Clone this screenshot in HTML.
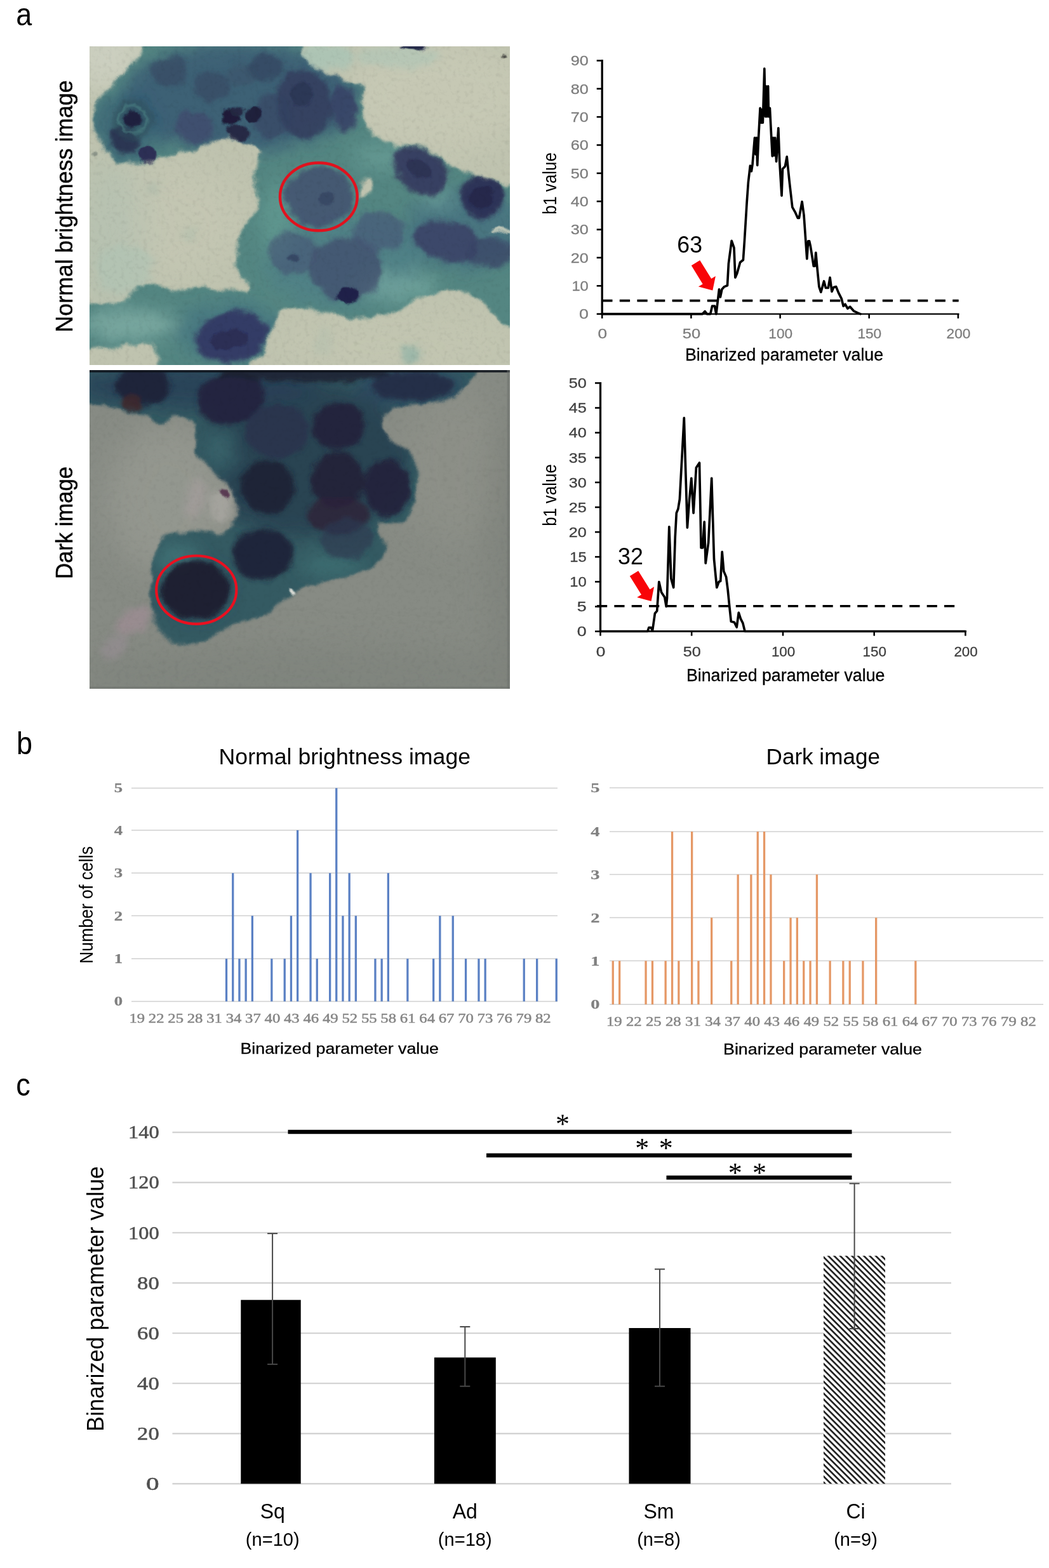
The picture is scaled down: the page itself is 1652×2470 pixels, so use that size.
<!DOCTYPE html>
<html><head><meta charset="utf-8"><title>Figure</title>
<style>
html,body{margin:0;padding:0;background:#fff;}
body{width:1652px;height:2470px;overflow:hidden;font-family:"Liberation Sans",sans-serif;}
svg{display:block;}
</style></head><body>
<svg width="1652" height="2470" viewBox="0 0 1652 2470">
<rect width="1652" height="2470" fill="#fff"/>
<defs>
<clipPath id="cp1"><rect x="141" y="73" width="662" height="502"/></clipPath>
<clipPath id="cp2"><rect x="141" y="583" width="662" height="502"/></clipPath>
<filter id="bl3" filterUnits="userSpaceOnUse" x="-100" y="-100" width="1768" height="1389"><feGaussianBlur stdDeviation="3"/></filter>
<filter id="bl5" filterUnits="userSpaceOnUse" x="-100" y="-100" width="1768" height="1389"><feGaussianBlur stdDeviation="5"/></filter>
<filter id="bl8" filterUnits="userSpaceOnUse" x="-100" y="-100" width="1768" height="1389"><feGaussianBlur stdDeviation="8"/></filter>
<filter id="bl14" filterUnits="userSpaceOnUse" x="-100" y="-100" width="1768" height="1389"><feGaussianBlur stdDeviation="14"/></filter>
<filter id="bl30" filterUnits="userSpaceOnUse" x="-100" y="-100" width="1768" height="1389"><feGaussianBlur stdDeviation="30"/></filter>
<filter id="bl60" filterUnits="userSpaceOnUse" x="-100" y="-100" width="1768" height="1389"><feGaussianBlur stdDeviation="60"/></filter>
<filter id="org1" filterUnits="userSpaceOnUse" x="-90" y="-90" width="1748" height="1369" color-interpolation-filters="sRGB">
<feTurbulence type="fractalNoise" baseFrequency="0.016" numOctaves="4" seed="7" result="w"/>
<feDisplacementMap in="SourceGraphic" in2="w" scale="38" xChannelSelector="R" yChannelSelector="G" result="d"/>
<feTurbulence type="fractalNoise" baseFrequency="0.06" numOctaves="4" seed="23" result="g0"/>
<feColorMatrix in="g0" type="matrix" values="0.5 0.5 0 0 0  0.5 0.5 0 0 0  0.5 0.5 0 0 0  0 0 0 0 1" result="g1"/>
<feComponentTransfer in="g1" result="g2"><feFuncR type="linear" slope="0.18" intercept="0.91"/><feFuncG type="linear" slope="0.18" intercept="0.91"/><feFuncB type="linear" slope="0.18" intercept="0.91"/></feComponentTransfer>
<feBlend in="d" in2="g2" mode="multiply" result="m"/>
<feComposite in="m" in2="d" operator="in"/>
</filter>
<filter id="org2" filterUnits="userSpaceOnUse" x="-90" y="-90" width="1748" height="1369" color-interpolation-filters="sRGB">
<feTurbulence type="fractalNoise" baseFrequency="0.016" numOctaves="4" seed="19" result="w"/>
<feDisplacementMap in="SourceGraphic" in2="w" scale="30" xChannelSelector="R" yChannelSelector="G" result="d"/>
<feTurbulence type="fractalNoise" baseFrequency="0.06" numOctaves="4" seed="5" result="g0"/>
<feColorMatrix in="g0" type="matrix" values="0.5 0.5 0 0 0  0.5 0.5 0 0 0  0.5 0.5 0 0 0  0 0 0 0 1" result="g1"/>
<feComponentTransfer in="g1" result="g2"><feFuncR type="linear" slope="0.13" intercept="0.935"/><feFuncG type="linear" slope="0.13" intercept="0.935"/><feFuncB type="linear" slope="0.13" intercept="0.935"/></feComponentTransfer>
<feBlend in="d" in2="g2" mode="multiply" result="m"/>
<feComposite in="m" in2="d" operator="in"/>
</filter>
</defs>
<g clip-path="url(#cp1)"><rect x="141" y="73" width="662" height="502" fill="#bfc3af"/>
<g transform="translate(141 73) scale(0.42219)" filter="url(#org1)">
<rect x="-100" y="-100" width="1768" height="1389" fill="#bfc3af"/>
<g filter="url(#bl60)">
<ellipse cx="1300" cy="180" rx="350" ry="220" fill="#c6c9b5" opacity="0.9"/>
<ellipse cx="300" cy="650" rx="280" ry="220" fill="#c4c7b3" opacity="0.8"/>
<ellipse cx="1150" cy="1120" rx="450" ry="150" fill="#c3c6b1" opacity="0.8"/>
<ellipse cx="60" cy="40" rx="160" ry="120" fill="#cdd0c2" opacity="0.9"/>
<ellipse cx="80" cy="700" rx="120" ry="300" fill="#b2c0b0" opacity="0.7"/>
</g>
<g filter="url(#bl14)">
<ellipse cx="880" cy="40" rx="110" ry="50" fill="#a9c4b5" opacity="0.8"/>
<ellipse cx="1150" cy="40" rx="150" ry="40" fill="#b0c6b6" opacity="0.7"/>
<ellipse cx="1199" cy="1150" rx="35" ry="40" fill="#94b4a8" opacity="0.8"/>
<ellipse cx="130" cy="830" rx="110" ry="90" fill="#b0c3b4" opacity="0.7"/>
<ellipse cx="240" cy="530" rx="25" ry="20" fill="#a8b8a8" opacity="0.6"/>
<ellipse cx="375" cy="700" rx="30" ry="25" fill="#b2bfae" opacity="0.6"/>
<ellipse cx="870" cy="1100" rx="30" ry="60" fill="#b4c0ae" opacity="0.5"/>
</g>
<mask id="m1" maskUnits="userSpaceOnUse" x="-100" y="-100" width="1768" height="1389"><g filter="url(#bl5)">
<path d="M215,-110C312,-130 684,-133 780,-110C876,-87 781,1 790,30C799,59 818,53 834,65C850,77 863,90 884,100C905,110 938,117 959,125C980,133 999,138 1009,150C1019,162 1016,183 1019,200C1022,217 1020,232 1024,250C1028,268 1034,293 1044,310C1054,327 1069,340 1084,350C1099,360 1148,358 1134,370C1120,382 1039,412 1000,420C961,428 950,420 900,420C850,420 741,422 700,420C659,418 668,412 655,405C642,398 638,388 625,380C612,372 596,361 575,355C554,349 521,344 500,345C479,346 467,353 450,360C433,367 421,379 400,385C379,391 348,389 325,395C302,401 281,412 260,420C239,428 218,438 200,440C182,442 167,437 150,435C133,433 114,438 100,430C86,422 77,405 65,390C53,375 38,358 30,340C22,322 19,299 18,280C17,261 18,244 25,225C32,206 48,182 60,165C72,148 88,138 100,125C112,112 122,102 135,90C148,78 164,63 175,50C186,37 193,37 200,10C207,-17 118,-90 215,-110Z" fill="#fff"/>
<path d="M655,390C684,378 742,385 800,380C858,375 953,365 1000,360C1047,355 1062,348 1084,350C1106,352 1109,367 1134,370C1159,373 1205,363 1234,370C1263,377 1288,397 1309,410C1330,423 1338,438 1359,450C1380,462 1409,472 1434,480C1459,488 1489,488 1509,495C1529,502 1524,512 1554,520C1584,528 1667,442 1690,540C1713,638 1710,1026 1690,1110C1670,1194 1598,1063 1568,1045C1538,1027 1527,1015 1509,1000C1491,985 1476,968 1459,955C1442,942 1426,927 1409,920C1392,913 1380,915 1359,915C1338,915 1305,916 1284,920C1263,924 1255,930 1234,940C1213,950 1184,969 1159,980C1134,991 1113,1000 1084,1005C1055,1010 1017,1012 984,1010C951,1008 917,1001 884,995C851,989 811,978 784,975C757,972 734,970 720,975C706,980 708,989 700,1005C692,1021 683,1047 675,1070C667,1093 662,1127 650,1145C638,1163 618,1154 600,1180C582,1206 593,1280 540,1300C487,1320 328,1328 280,1300C232,1272 263,1167 250,1135C237,1103 225,1112 200,1110C175,1108 150,1118 100,1120C50,1122 -67,1152 -100,1125C-133,1098 -133,982 -100,955C-67,928 52,975 100,965C148,955 157,906 190,895C223,884 273,898 300,900C327,902 329,911 350,910C371,909 400,894 425,895C450,896 475,912 500,915C525,918 558,913 575,910C592,907 602,904 600,895C598,886 570,868 560,855C550,842 542,834 540,820C538,806 546,791 550,770C554,749 557,716 565,695C573,674 590,662 600,645C610,628 622,619 625,595C628,571 620,524 620,500C620,476 619,468 625,450C631,432 626,402 655,390Z" fill="#fff"/>
<ellipse cx="1026" cy="530" rx="24" ry="46" fill="#000" transform="rotate(18 1026 530)"/>
</g></mask>
<g mask="url(#m1)">
<rect x="-100" y="-100" width="1768" height="1389" fill="#548682"/>
<g filter="url(#bl30)">
<ellipse cx="560" cy="190" rx="440" ry="200" fill="#3a5c74" opacity="0.9"/>
<ellipse cx="140" cy="300" rx="130" ry="140" fill="#365f74" opacity="0.7"/>
<ellipse cx="950" cy="800" rx="300" ry="170" fill="#4a7a8c" opacity="0.4"/>
<ellipse cx="1400" cy="680" rx="220" ry="150" fill="#40687f" opacity="0.55"/>
<ellipse cx="520" cy="1060" rx="200" ry="110" fill="#3f6e80" opacity="0.55"/>
<ellipse cx="150" cy="1040" rx="170" ry="60" fill="#86b3aa" opacity="0.7"/>
<ellipse cx="1150" cy="900" rx="150" ry="50" fill="#7fb3a8" opacity="0.6"/>
<ellipse cx="1100" cy="410" rx="120" ry="50" fill="#74aaa0" opacity="0.5"/>
<ellipse cx="700" cy="650" rx="60" ry="150" fill="#6aa59a" opacity="0.5"/>
<ellipse cx="1300" cy="570" rx="60" ry="40" fill="#79b0a5" opacity="0.5"/>
</g>
<g filter="url(#bl8)">
<ellipse cx="295" cy="95" rx="66" ry="56" fill="#384d65" opacity="0.8"/>
<ellipse cx="455" cy="150" rx="68" ry="60" fill="#384d67" opacity="0.8"/>
<ellipse cx="570" cy="110" rx="55" ry="45" fill="#3a5169" opacity="0.6"/>
<ellipse cx="655" cy="80" rx="70" ry="50" fill="#344963" opacity="0.8"/>
<ellipse cx="390" cy="305" rx="72" ry="62" fill="#404e6e" opacity="0.85"/>
<ellipse cx="680" cy="260" rx="70" ry="85" fill="#384665" opacity="0.7"/>
<ellipse cx="800" cy="215" rx="102" ry="132" fill="#333f5f" opacity="0.92" transform="rotate(-8 800 215)"/>
<ellipse cx="949" cy="235" rx="48" ry="88" fill="#394366" opacity="0.9" transform="rotate(-8 949 235)"/>
<ellipse cx="130" cy="350" rx="60" ry="50" fill="#293250" opacity="0.9" transform="rotate(25 130 350)"/>
<ellipse cx="160" cy="272" rx="78" ry="78" fill="#2f4f5c" opacity="0.55"/>
<ellipse cx="855" cy="562" rx="128" ry="114" fill="#425270" opacity="0.85"/>
<ellipse cx="1236" cy="462" rx="112" ry="80" fill="#363b5f" opacity="0.95" transform="rotate(32 1236 462)"/>
<ellipse cx="1464" cy="560" rx="78" ry="80" fill="#2d2e55" opacity="0.95"/>
<ellipse cx="1330" cy="725" rx="120" ry="78" fill="#3a4366" opacity="0.9" transform="rotate(10 1330 725)"/>
<ellipse cx="1490" cy="770" rx="90" ry="55" fill="#3a4366" opacity="0.75"/>
<ellipse cx="760" cy="770" rx="95" ry="80" fill="#455473" opacity="0.65"/>
<ellipse cx="960" cy="830" rx="135" ry="118" fill="#414d6e" opacity="0.75"/>
<ellipse cx="1080" cy="690" rx="95" ry="75" fill="#455374" opacity="0.6"/>
<ellipse cx="530" cy="1085" rx="138" ry="94" fill="#343a64" opacity="0.95" transform="rotate(-12 530 1085)"/>
</g>
<g filter="url(#bl3)">
<ellipse cx="160" cy="272" rx="52" ry="50" fill="none" stroke="#5a9a94" stroke-width="10" opacity="0.4"/>
<ellipse cx="160" cy="272" rx="32" ry="31" fill="#1c1d3c" opacity="0.95"/>
<ellipse cx="215" cy="410" rx="35" ry="31" fill="#2b2b53" opacity="0.95"/>
<ellipse cx="525" cy="265" rx="32" ry="30" fill="#1a1935" opacity="0.95"/>
<ellipse cx="552" cy="245" rx="20" ry="18" fill="#212640" opacity="0.9"/>
<ellipse cx="610" cy="256" rx="32" ry="28" fill="#1c1a38" opacity="0.95"/>
<ellipse cx="555" cy="322" rx="45" ry="28" fill="#242241" opacity="0.9"/>
<ellipse cx="964" cy="930" rx="40" ry="29" fill="#1e2046" opacity="0.95" transform="rotate(-10 964 930)"/>
<ellipse cx="1225" cy="455" rx="48" ry="32" fill="#2a2c50" opacity="0.7" transform="rotate(32 1225 455)"/>
<ellipse cx="1460" cy="565" rx="42" ry="42" fill="#242546" opacity="0.7"/>
<ellipse cx="520" cy="1095" rx="65" ry="35" fill="#29294e" opacity="0.7" transform="rotate(-12 520 1095)"/>
<ellipse cx="885" cy="565" rx="34" ry="28" fill="#354261" opacity="0.7"/>
<ellipse cx="790" cy="180" rx="40" ry="50" fill="#283150" opacity="0.6"/>
<ellipse cx="760" cy="785" rx="14" ry="14" fill="#2f3c5b" opacity="0.7"/>
</g>
</g>
<g filter="url(#bl3)">
<ellipse cx="1210" cy="2" rx="42" ry="14" fill="#1a2244" opacity="0.95"/>
<ellipse cx="1538" cy="38" rx="9" ry="8" fill="#3a3a38" opacity="0.9"/>
<ellipse cx="20" cy="400" rx="12" ry="10" fill="#808a80" opacity="0.8"/>
<ellipse cx="1540" cy="690" rx="40" ry="8" fill="#c8cdbd" opacity="0.9"/>
</g>
</g>
<ellipse cx="501.8" cy="309.9" rx="60.8" ry="53.4" fill="none" stroke="#e0121e" stroke-width="4.4"/>
</g>
<g clip-path="url(#cp2)"><rect x="141" y="583" width="662" height="502" fill="#878b84"/>
<g transform="translate(141 583) scale(0.42219)" filter="url(#org2)">
<rect x="-100" y="-100" width="1768" height="1389" fill="#878b84"/>
<g filter="url(#bl60)">
<ellipse cx="300" cy="480" rx="240" ry="280" fill="#959890" opacity="0.9"/>
<ellipse cx="1350" cy="350" rx="200" ry="300" fill="#8e9189" opacity="0.7"/>
<ellipse cx="800" cy="1150" rx="900" ry="120" fill="#7f847d" opacity="0.9"/>
<ellipse cx="1568" cy="700" rx="80" ry="600" fill="#7d817b" opacity="0.8"/>
</g>
<mask id="m2" maskUnits="userSpaceOnUse" x="-100" y="-100" width="1768" height="1389"><g filter="url(#bl5)">
<path d="M-100,-100C162,-133 1212,-117 1470,-100C1728,-83 1459,-25 1449,0C1439,25 1424,33 1409,50C1394,67 1380,88 1359,100C1338,112 1309,120 1284,125C1259,130 1232,128 1209,130C1186,132 1161,134 1144,140C1127,146 1117,153 1109,165C1101,177 1093,196 1094,210C1095,224 1106,239 1114,250C1122,261 1132,268 1144,275C1156,282 1172,286 1184,295C1196,304 1206,316 1214,330C1222,344 1227,363 1229,380C1231,397 1226,414 1224,430C1222,446 1218,459 1214,475C1210,491 1206,510 1199,525C1192,540 1185,557 1174,565C1163,573 1149,575 1134,575C1119,575 1093,561 1084,565C1075,569 1077,587 1080,600C1083,613 1103,628 1104,645C1105,662 1096,688 1084,705C1072,722 1055,734 1034,745C1013,756 984,763 959,770C934,777 909,779 884,785C859,791 833,794 809,805C785,816 758,838 740,850C722,862 715,864 700,875C685,886 675,903 650,915C625,927 577,935 550,945C523,955 508,964 490,975C472,986 459,1002 440,1010C421,1018 397,1025 375,1025C353,1025 329,1019 310,1010C291,1001 272,989 260,970C248,951 241,924 235,895C229,866 224,828 225,795C226,762 231,723 240,695C249,667 263,640 280,625C297,610 317,609 340,605C363,601 397,598 420,600C443,602 462,616 480,615C498,614 514,607 525,595C536,583 541,561 545,545C549,529 553,516 550,500C547,484 532,462 525,450C518,438 518,435 510,425C502,415 489,404 475,390C461,376 438,355 425,340C412,325 399,315 395,300C391,285 401,267 400,250C399,233 398,212 390,200C382,188 363,180 350,175C337,170 322,166 310,170C298,174 292,196 280,200C268,204 252,201 240,195C228,189 225,171 210,165C195,159 168,163 150,160C132,157 117,150 100,145C83,140 83,138 50,130C17,122 -75,138 -100,100C-125,62 -362,-67 -100,-100Z" fill="#fff"/>
</g></mask>
<g mask="url(#m2)">
<rect x="-100" y="-100" width="1768" height="1389" fill="#345a62"/>
<g filter="url(#bl30)">
<ellipse cx="800" cy="330" rx="400" ry="290" fill="#273f50" opacity="0.8"/>
<ellipse cx="400" cy="820" rx="120" ry="110" fill="#28455a" opacity="0.6"/>
<ellipse cx="400" cy="60" rx="450" ry="80" fill="#253f55" opacity="0.8"/>
<ellipse cx="1200" cy="60" rx="200" ry="70" fill="#2a4560" opacity="0.7"/>
<ellipse cx="330" cy="700" rx="80" ry="60" fill="#4a8585" opacity="0.5"/>
<ellipse cx="480" cy="300" rx="60" ry="80" fill="#458080" opacity="0.5"/>
<ellipse cx="900" cy="730" rx="120" ry="40" fill="#458282" opacity="0.5"/>
</g>
<g filter="url(#bl8)">
<ellipse cx="200" cy="60" rx="105" ry="70" fill="#1e2338" opacity="0.95"/>
<ellipse cx="525" cy="105" rx="128" ry="98" fill="#21253e" opacity="0.95" transform="rotate(-10 525 105)"/>
<ellipse cx="700" cy="228" rx="118" ry="100" fill="#2a334d" opacity="0.85"/>
<ellipse cx="929" cy="210" rx="100" ry="88" fill="#23233c" opacity="0.95"/>
<ellipse cx="663" cy="435" rx="100" ry="102" fill="#1d2135" opacity="0.95"/>
<ellipse cx="925" cy="410" rx="100" ry="105" fill="#212138" opacity="0.95"/>
<ellipse cx="925" cy="540" rx="115" ry="70" fill="#2e253a" opacity="0.85"/>
<ellipse cx="1109" cy="438" rx="88" ry="108" fill="#23233d" opacity="0.95"/>
<ellipse cx="645" cy="690" rx="115" ry="98" fill="#202338" opacity="0.95"/>
<ellipse cx="960" cy="630" rx="100" ry="75" fill="#2e3b51" opacity="0.7"/>
<ellipse cx="395" cy="820" rx="128" ry="108" fill="#1c1d2f" opacity="0.95"/>
<ellipse cx="1209" cy="60" rx="155" ry="55" fill="#262c46" opacity="0.9"/>
<ellipse cx="800" cy="15" rx="320" ry="30" fill="#1c2433" opacity="0.9"/>
<ellipse cx="155" cy="125" rx="38" ry="28" fill="#3e292e" opacity="0.9"/>
</g>
</g>
<g filter="url(#bl14)">
<ellipse cx="165" cy="935" rx="70" ry="40" fill="#a88e9a" opacity="0.55" transform="rotate(-25 165 935)"/>
<ellipse cx="95" cy="1030" rx="60" ry="35" fill="#9c9097" opacity="0.5" transform="rotate(-35 95 1030)"/>
<ellipse cx="395" cy="480" rx="35" ry="80" fill="#ab9fa2" opacity="0.5" transform="rotate(15 395 480)"/>
<ellipse cx="490" cy="510" rx="45" ry="60" fill="#b0aea8" opacity="0.6"/>
</g>
<g filter="url(#bl3)">
<ellipse cx="505" cy="465" rx="26" ry="12" fill="#4f2c48" opacity="0.85" transform="rotate(50 505 465)"/>
<ellipse cx="757" cy="826" rx="13" ry="9" fill="#e6e6de" opacity="0.95" transform="rotate(35 757 826)"/>
</g>
</g>
<rect x="141" y="583" width="662" height="3.6" fill="#10141c" opacity="0.9"/>
<rect x="798.5" y="583" width="4.5" height="502" fill="#6c706c" opacity="0.5"/>
<rect x="141" y="1081.5" width="662" height="3.5" fill="#6c706c" opacity="0.5"/>
<ellipse cx="309.3" cy="929.2" rx="63.1" ry="53.7" fill="none" stroke="#ea1020" stroke-width="4.2"/>
</g>
<text x="25.2" y="40.0" font-family='"Liberation Sans", sans-serif' font-size="50" text-anchor="start" fill="#000" textLength="25.0" lengthAdjust="spacingAndGlyphs">a</text>
<text x="26.1" y="1187.6" font-family='"Liberation Sans", sans-serif' font-size="50" text-anchor="start" fill="#000" textLength="25.0" lengthAdjust="spacingAndGlyphs">b</text>
<text x="25.2" y="1726.2" font-family='"Liberation Sans", sans-serif' font-size="50" text-anchor="start" fill="#000" textLength="22.5" lengthAdjust="spacingAndGlyphs">c</text>
<text x="0" y="0" font-family='"Liberation Sans", sans-serif' font-size="36.5" text-anchor="middle" fill="#000" stroke="#000" stroke-width="0.45" textLength="397.0" lengthAdjust="spacingAndGlyphs" transform="translate(113.5 325.0) rotate(-90)">Normal brightness image</text>
<text x="0" y="0" font-family='"Liberation Sans", sans-serif' font-size="36.5" text-anchor="middle" fill="#000" stroke="#000" stroke-width="0.45" textLength="177.0" lengthAdjust="spacingAndGlyphs" transform="translate(113.5 823.5) rotate(-90)">Dark image</text>
<line x1="948.2" y1="94.0" x2="948.2" y2="496.1" stroke="#000" stroke-width="3.3"/>
<line x1="946.7" y1="494.6" x2="1510.5" y2="494.6" stroke="#000" stroke-width="2.4"/>
<line x1="939.7" y1="95.5" x2="948.2" y2="95.5" stroke="#000" stroke-width="2.6"/>
<text x="898.8" y="103.2" font-family='"Liberation Sans", sans-serif' font-size="22.3" text-anchor="start" fill="#7d7d7d" textLength="28.0" lengthAdjust="spacingAndGlyphs" stroke="#7d7d7d" stroke-width="0.3">90</text>
<line x1="939.7" y1="139.8" x2="948.2" y2="139.8" stroke="#000" stroke-width="2.6"/>
<text x="898.8" y="147.5" font-family='"Liberation Sans", sans-serif' font-size="22.3" text-anchor="start" fill="#7d7d7d" textLength="28.0" lengthAdjust="spacingAndGlyphs" stroke="#7d7d7d" stroke-width="0.3">80</text>
<line x1="939.7" y1="184.2" x2="948.2" y2="184.2" stroke="#000" stroke-width="2.6"/>
<text x="898.8" y="191.9" font-family='"Liberation Sans", sans-serif' font-size="22.3" text-anchor="start" fill="#7d7d7d" textLength="28.0" lengthAdjust="spacingAndGlyphs" stroke="#7d7d7d" stroke-width="0.3">70</text>
<line x1="939.7" y1="228.5" x2="948.2" y2="228.5" stroke="#000" stroke-width="2.6"/>
<text x="898.8" y="236.2" font-family='"Liberation Sans", sans-serif' font-size="22.3" text-anchor="start" fill="#7d7d7d" textLength="28.0" lengthAdjust="spacingAndGlyphs" stroke="#7d7d7d" stroke-width="0.3">60</text>
<line x1="939.7" y1="272.9" x2="948.2" y2="272.9" stroke="#000" stroke-width="2.6"/>
<text x="898.8" y="280.6" font-family='"Liberation Sans", sans-serif' font-size="22.3" text-anchor="start" fill="#7d7d7d" textLength="28.0" lengthAdjust="spacingAndGlyphs" stroke="#7d7d7d" stroke-width="0.3">50</text>
<line x1="939.7" y1="317.2" x2="948.2" y2="317.2" stroke="#000" stroke-width="2.6"/>
<text x="898.8" y="324.9" font-family='"Liberation Sans", sans-serif' font-size="22.3" text-anchor="start" fill="#7d7d7d" textLength="28.0" lengthAdjust="spacingAndGlyphs" stroke="#7d7d7d" stroke-width="0.3">40</text>
<line x1="939.7" y1="361.6" x2="948.2" y2="361.6" stroke="#000" stroke-width="2.6"/>
<text x="898.8" y="369.3" font-family='"Liberation Sans", sans-serif' font-size="22.3" text-anchor="start" fill="#7d7d7d" textLength="28.0" lengthAdjust="spacingAndGlyphs" stroke="#7d7d7d" stroke-width="0.3">30</text>
<line x1="939.7" y1="405.9" x2="948.2" y2="405.9" stroke="#000" stroke-width="2.6"/>
<text x="898.8" y="413.6" font-family='"Liberation Sans", sans-serif' font-size="22.3" text-anchor="start" fill="#7d7d7d" textLength="28.0" lengthAdjust="spacingAndGlyphs" stroke="#7d7d7d" stroke-width="0.3">20</text>
<line x1="939.7" y1="450.3" x2="948.2" y2="450.3" stroke="#000" stroke-width="2.6"/>
<text x="900.4" y="458.0" font-family='"Liberation Sans", sans-serif' font-size="22.3" text-anchor="start" fill="#7d7d7d" textLength="26.4" lengthAdjust="spacingAndGlyphs" stroke="#7d7d7d" stroke-width="0.3">10</text>
<line x1="939.7" y1="494.6" x2="948.2" y2="494.6" stroke="#000" stroke-width="2.6"/>
<text x="911.9" y="502.3" font-family='"Liberation Sans", sans-serif' font-size="22.3" text-anchor="start" fill="#7d7d7d" textLength="14.9" lengthAdjust="spacingAndGlyphs" stroke="#7d7d7d" stroke-width="0.3">0</text>
<line x1="948.2" y1="494.6" x2="948.2" y2="501.6" stroke="#000" stroke-width="2.6"/>
<text x="941.5" y="533.1" font-family='"Liberation Sans", sans-serif' font-size="22.3" text-anchor="start" fill="#7d7d7d" textLength="14.6" lengthAdjust="spacingAndGlyphs" stroke="#7d7d7d" stroke-width="0.3">0</text>
<line x1="1088.4" y1="494.6" x2="1088.4" y2="501.6" stroke="#000" stroke-width="2.6"/>
<text x="1074.8" y="533.1" font-family='"Liberation Sans", sans-serif' font-size="22.3" text-anchor="start" fill="#7d7d7d" textLength="28.4" lengthAdjust="spacingAndGlyphs" stroke="#7d7d7d" stroke-width="0.3">50</text>
<line x1="1228.6" y1="494.6" x2="1228.6" y2="501.6" stroke="#000" stroke-width="2.6"/>
<text x="1210.3" y="533.1" font-family='"Liberation Sans", sans-serif' font-size="22.3" text-anchor="start" fill="#7d7d7d" textLength="37.8" lengthAdjust="spacingAndGlyphs" stroke="#7d7d7d" stroke-width="0.3">100</text>
<line x1="1368.7" y1="494.6" x2="1368.7" y2="501.6" stroke="#000" stroke-width="2.6"/>
<text x="1350.4" y="533.1" font-family='"Liberation Sans", sans-serif' font-size="22.3" text-anchor="start" fill="#7d7d7d" textLength="37.8" lengthAdjust="spacingAndGlyphs" stroke="#7d7d7d" stroke-width="0.3">150</text>
<line x1="1508.9" y1="494.6" x2="1508.9" y2="501.6" stroke="#000" stroke-width="2.6"/>
<text x="1490.6" y="533.1" font-family='"Liberation Sans", sans-serif' font-size="22.3" text-anchor="start" fill="#7d7d7d" textLength="37.8" lengthAdjust="spacingAndGlyphs" stroke="#7d7d7d" stroke-width="0.3">200</text>
<polyline fill="none" stroke="#000" stroke-width="3.7" stroke-linejoin="round" stroke-linecap="round" points="947.5,494.6 1106.3,494.6 1110.1,490.4 1113.3,494.6 1118.7,494.6 1121.6,482.2 1125.4,482.2 1127.9,494.6 1132.5,455.8 1134.4,467.8 1136.9,455.8 1140.7,451.6 1145.5,449.7 1147.4,415.2 1152.2,379.3 1156.0,390.4 1157.9,437.2 1160.8,430.5 1165.6,413.3 1170.4,409.5 1172.6,377.0 1176.1,319.6 1178.4,287.1 1181.4,261.2 1183.4,269.8 1185.1,258.4 1188.5,217.2 1190.1,243.1 1191.4,217.2 1192.7,260.3 1194.6,216.3 1197.1,170.4 1199.0,193.3 1200.4,172.3 1201.3,193.3 1203.8,108.2 1205.4,183.7 1206.3,135.9 1207.7,183.7 1209.6,135.9 1210.5,183.7 1212.4,170.4 1216.3,245.9 1217.8,217.2 1219.1,245.0 1220.7,217.2 1222.6,254.5 1225.8,201.9 1227.7,254.5 1231.0,308.1 1232.5,266.0 1236.4,262.2 1239.2,246.9 1243.1,285.1 1247.8,326.3 1252.6,334.9 1256.4,343.5 1258.4,343.5 1263.1,317.7 1266.0,338.7 1270.8,407.6 1272.7,379.8 1274.6,379.8 1276.5,388.5 1281.3,419.1 1283.2,419.1 1284.8,398.0 1286.7,419.1 1289.9,451.6 1292.8,460.2 1297.6,443.0 1300.4,453.5 1304.3,453.5 1307.1,437.2 1310.0,459.2 1312.9,452.5 1316.7,451.6 1320.5,461.1 1325.3,470.7 1328.2,482.2 1331.1,479.3 1334.9,486.0 1338.7,483.2 1344.4,489.8 1350.2,492.7 1355.0,494.6"/>
<line x1="948.2" y1="473.6" x2="1509.7" y2="473.6" stroke="#000" stroke-width="3.6" stroke-dasharray="16.3 11.3"/>
<text x="1066.3" y="398.4" font-family='"Liberation Sans", sans-serif' font-size="36.5" text-anchor="start" fill="#000" textLength="39.7" lengthAdjust="spacingAndGlyphs">63</text>
<polygon points="1088.8,418.2 1106.7,447.4 1099.9,451.5 1122.3,457.6 1126.9,434.9 1120.2,439.1 1102.2,410.0" fill="#f80408"/>
<text x="1078.9" y="567.5" font-family='"Liberation Sans", sans-serif' font-size="27" text-anchor="start" fill="#000" textLength="312.2" lengthAdjust="spacingAndGlyphs" stroke="#000" stroke-width="0.3">Binarized parameter value</text>
<text x="0" y="0" font-family='"Liberation Sans", sans-serif' font-size="30" text-anchor="middle" fill="#000" textLength="97.5" lengthAdjust="spacingAndGlyphs" transform="translate(876.3 289.0) rotate(-90)">b1 value</text>
<line x1="945.5" y1="601.9" x2="945.5" y2="996.1" stroke="#000" stroke-width="3.3"/>
<line x1="944.0" y1="994.6" x2="1521.9" y2="994.6" stroke="#000" stroke-width="3"/>
<line x1="937.0" y1="603.4" x2="945.5" y2="603.4" stroke="#000" stroke-width="2.6"/>
<text x="895.7" y="611.1" font-family='"Liberation Sans", sans-serif' font-size="22.3" text-anchor="start" fill="#3f3f3f" textLength="28.0" lengthAdjust="spacingAndGlyphs" stroke="#3f3f3f" stroke-width="0.3">50</text>
<line x1="937.0" y1="642.5" x2="945.5" y2="642.5" stroke="#000" stroke-width="2.6"/>
<text x="895.7" y="650.2" font-family='"Liberation Sans", sans-serif' font-size="22.3" text-anchor="start" fill="#3f3f3f" textLength="28.0" lengthAdjust="spacingAndGlyphs" stroke="#3f3f3f" stroke-width="0.3">45</text>
<line x1="937.0" y1="681.6" x2="945.5" y2="681.6" stroke="#000" stroke-width="2.6"/>
<text x="895.7" y="689.3" font-family='"Liberation Sans", sans-serif' font-size="22.3" text-anchor="start" fill="#3f3f3f" textLength="28.0" lengthAdjust="spacingAndGlyphs" stroke="#3f3f3f" stroke-width="0.3">40</text>
<line x1="937.0" y1="720.8" x2="945.5" y2="720.8" stroke="#000" stroke-width="2.6"/>
<text x="895.7" y="728.5" font-family='"Liberation Sans", sans-serif' font-size="22.3" text-anchor="start" fill="#3f3f3f" textLength="28.0" lengthAdjust="spacingAndGlyphs" stroke="#3f3f3f" stroke-width="0.3">35</text>
<line x1="937.0" y1="759.9" x2="945.5" y2="759.9" stroke="#000" stroke-width="2.6"/>
<text x="895.7" y="767.6" font-family='"Liberation Sans", sans-serif' font-size="22.3" text-anchor="start" fill="#3f3f3f" textLength="28.0" lengthAdjust="spacingAndGlyphs" stroke="#3f3f3f" stroke-width="0.3">30</text>
<line x1="937.0" y1="799.0" x2="945.5" y2="799.0" stroke="#000" stroke-width="2.6"/>
<text x="895.7" y="806.7" font-family='"Liberation Sans", sans-serif' font-size="22.3" text-anchor="start" fill="#3f3f3f" textLength="28.0" lengthAdjust="spacingAndGlyphs" stroke="#3f3f3f" stroke-width="0.3">25</text>
<line x1="937.0" y1="838.1" x2="945.5" y2="838.1" stroke="#000" stroke-width="2.6"/>
<text x="895.7" y="845.8" font-family='"Liberation Sans", sans-serif' font-size="22.3" text-anchor="start" fill="#3f3f3f" textLength="28.0" lengthAdjust="spacingAndGlyphs" stroke="#3f3f3f" stroke-width="0.3">20</text>
<line x1="937.0" y1="877.2" x2="945.5" y2="877.2" stroke="#000" stroke-width="2.6"/>
<text x="897.3" y="884.9" font-family='"Liberation Sans", sans-serif' font-size="22.3" text-anchor="start" fill="#3f3f3f" textLength="26.4" lengthAdjust="spacingAndGlyphs" stroke="#3f3f3f" stroke-width="0.3">15</text>
<line x1="937.0" y1="916.4" x2="945.5" y2="916.4" stroke="#000" stroke-width="2.6"/>
<text x="897.3" y="924.1" font-family='"Liberation Sans", sans-serif' font-size="22.3" text-anchor="start" fill="#3f3f3f" textLength="26.4" lengthAdjust="spacingAndGlyphs" stroke="#3f3f3f" stroke-width="0.3">10</text>
<line x1="937.0" y1="955.5" x2="945.5" y2="955.5" stroke="#000" stroke-width="2.6"/>
<text x="908.8" y="963.2" font-family='"Liberation Sans", sans-serif' font-size="22.3" text-anchor="start" fill="#3f3f3f" textLength="14.9" lengthAdjust="spacingAndGlyphs" stroke="#3f3f3f" stroke-width="0.3">5</text>
<line x1="937.0" y1="994.6" x2="945.5" y2="994.6" stroke="#000" stroke-width="2.6"/>
<text x="908.8" y="1002.3" font-family='"Liberation Sans", sans-serif' font-size="22.3" text-anchor="start" fill="#3f3f3f" textLength="14.9" lengthAdjust="spacingAndGlyphs" stroke="#3f3f3f" stroke-width="0.3">0</text>
<line x1="945.5" y1="994.6" x2="945.5" y2="1001.6" stroke="#000" stroke-width="2.6"/>
<text x="938.8" y="1034.3" font-family='"Liberation Sans", sans-serif' font-size="22.3" text-anchor="start" fill="#3f3f3f" textLength="14.6" lengthAdjust="spacingAndGlyphs" stroke="#3f3f3f" stroke-width="0.3">0</text>
<line x1="1089.2" y1="994.6" x2="1089.2" y2="1001.6" stroke="#000" stroke-width="2.6"/>
<text x="1075.8" y="1034.3" font-family='"Liberation Sans", sans-serif' font-size="22.3" text-anchor="start" fill="#3f3f3f" textLength="28.0" lengthAdjust="spacingAndGlyphs" stroke="#3f3f3f" stroke-width="0.3">50</text>
<line x1="1233.0" y1="994.6" x2="1233.0" y2="1001.6" stroke="#000" stroke-width="2.6"/>
<text x="1214.9" y="1034.3" font-family='"Liberation Sans", sans-serif' font-size="22.3" text-anchor="start" fill="#3f3f3f" textLength="37.3" lengthAdjust="spacingAndGlyphs" stroke="#3f3f3f" stroke-width="0.3">100</text>
<line x1="1376.7" y1="994.6" x2="1376.7" y2="1001.6" stroke="#000" stroke-width="2.6"/>
<text x="1358.6" y="1034.3" font-family='"Liberation Sans", sans-serif' font-size="22.3" text-anchor="start" fill="#3f3f3f" textLength="37.3" lengthAdjust="spacingAndGlyphs" stroke="#3f3f3f" stroke-width="0.3">150</text>
<line x1="1520.4" y1="994.6" x2="1520.4" y2="1001.6" stroke="#000" stroke-width="2.6"/>
<text x="1502.4" y="1034.3" font-family='"Liberation Sans", sans-serif' font-size="22.3" text-anchor="start" fill="#3f3f3f" textLength="37.3" lengthAdjust="spacingAndGlyphs" stroke="#3f3f3f" stroke-width="0.3">200</text>
<polyline fill="none" stroke="#000" stroke-width="3.7" stroke-linejoin="round" stroke-linecap="round" points="945.4,994.5 1019.9,994.5 1021.9,988.5 1025.0,988.5 1027.6,993.1 1031.4,966.3 1034.7,962.4 1037.8,916.5 1041.6,933.1 1046.7,940.8 1049.2,955.3 1050.5,942.0 1053.8,829.8 1056.9,911.4 1060.7,925.5 1063.3,845.1 1065.3,808.1 1067.9,801.7 1070.4,786.4 1077.3,658.4 1082.4,831.1 1085.7,786.4 1088.8,753.3 1092.1,808.1 1096.4,736.7 1101.5,729.0 1104.1,863.0 1106.6,863.0 1109.2,822.1 1111.2,887.2 1115.6,855.3 1120.7,753.3 1124.5,880.8 1128.8,925.5 1132.1,916.5 1134.7,915.3 1137.2,869.3 1139.8,899.9 1143.6,908.9 1146.2,929.3 1148.7,954.8 1151.3,979.0 1156.4,980.3 1160.2,988.0 1163.3,965.0 1166.6,975.2 1169.9,981.6 1173.0,994.5 1519.9,994.5"/>
<line x1="940.0" y1="954.8" x2="1504.0" y2="954.8" stroke="#000" stroke-width="3.6" stroke-dasharray="16.2 11.15"/>
<text x="973.1" y="888.8" font-family='"Liberation Sans", sans-serif' font-size="36.5" text-anchor="start" fill="#000" textLength="39.8" lengthAdjust="spacingAndGlyphs">32</text>
<polygon points="991.8,907.6 1010.0,936.8 1003.2,941.0 1025.6,947.0 1030.1,924.3 1023.4,928.5 1005.2,899.2" fill="#f80408"/>
<text x="1080.9" y="1072.7" font-family='"Liberation Sans", sans-serif' font-size="27" text-anchor="start" fill="#000" textLength="312.6" lengthAdjust="spacingAndGlyphs" stroke="#000" stroke-width="0.3">Binarized parameter value</text>
<text x="0" y="0" font-family='"Liberation Sans", sans-serif' font-size="30" text-anchor="middle" fill="#000" textLength="97.6" lengthAdjust="spacingAndGlyphs" transform="translate(876.0 780.0) rotate(-90)">b1 value</text>
<line x1="207.0" y1="1241.4" x2="878.0" y2="1241.4" stroke="#d0d0d0" stroke-width="1.5"/>
<line x1="207.0" y1="1307.8" x2="878.0" y2="1307.8" stroke="#d0d0d0" stroke-width="1.5"/>
<line x1="207.0" y1="1375.3" x2="878.0" y2="1375.3" stroke="#d0d0d0" stroke-width="1.5"/>
<line x1="207.0" y1="1442.6" x2="878.0" y2="1442.6" stroke="#d0d0d0" stroke-width="1.5"/>
<line x1="207.0" y1="1510.2" x2="878.0" y2="1510.2" stroke="#d0d0d0" stroke-width="1.5"/>
<line x1="207.0" y1="1577.5" x2="878.0" y2="1577.5" stroke="#d0d0d0" stroke-width="1.5"/>
<rect x="354.9" y="1510.2" width="3.3" height="67.3" fill="#5b81c4"/>
<rect x="365.1" y="1375.3" width="3.3" height="202.2" fill="#5b81c4"/>
<rect x="375.3" y="1510.2" width="3.3" height="67.3" fill="#5b81c4"/>
<rect x="385.5" y="1510.2" width="3.3" height="67.3" fill="#5b81c4"/>
<rect x="395.7" y="1442.6" width="3.3" height="134.9" fill="#5b81c4"/>
<rect x="426.2" y="1510.2" width="3.3" height="67.3" fill="#5b81c4"/>
<rect x="446.6" y="1510.2" width="3.3" height="67.3" fill="#5b81c4"/>
<rect x="456.8" y="1442.6" width="3.3" height="134.9" fill="#5b81c4"/>
<rect x="467.0" y="1307.8" width="3.3" height="269.7" fill="#5b81c4"/>
<rect x="487.4" y="1375.3" width="3.3" height="202.2" fill="#5b81c4"/>
<rect x="497.6" y="1510.2" width="3.3" height="67.3" fill="#5b81c4"/>
<rect x="518.0" y="1375.3" width="3.3" height="202.2" fill="#5b81c4"/>
<rect x="528.1" y="1241.4" width="3.3" height="336.1" fill="#5b81c4"/>
<rect x="538.3" y="1442.6" width="3.3" height="134.9" fill="#5b81c4"/>
<rect x="548.5" y="1375.3" width="3.3" height="202.2" fill="#5b81c4"/>
<rect x="558.7" y="1442.6" width="3.3" height="134.9" fill="#5b81c4"/>
<rect x="589.3" y="1510.2" width="3.3" height="67.3" fill="#5b81c4"/>
<rect x="599.5" y="1510.2" width="3.3" height="67.3" fill="#5b81c4"/>
<rect x="609.7" y="1375.3" width="3.3" height="202.2" fill="#5b81c4"/>
<rect x="640.2" y="1510.2" width="3.3" height="67.3" fill="#5b81c4"/>
<rect x="681.0" y="1510.2" width="3.3" height="67.3" fill="#5b81c4"/>
<rect x="691.2" y="1442.6" width="3.3" height="134.9" fill="#5b81c4"/>
<rect x="711.6" y="1442.6" width="3.3" height="134.9" fill="#5b81c4"/>
<rect x="731.9" y="1510.2" width="3.3" height="67.3" fill="#5b81c4"/>
<rect x="752.3" y="1510.2" width="3.3" height="67.3" fill="#5b81c4"/>
<rect x="762.5" y="1510.2" width="3.3" height="67.3" fill="#5b81c4"/>
<rect x="823.6" y="1510.2" width="3.3" height="67.3" fill="#5b81c4"/>
<rect x="844.0" y="1510.2" width="3.3" height="67.3" fill="#5b81c4"/>
<rect x="874.6" y="1510.2" width="3.3" height="67.3" fill="#5b81c4"/>
<text x="179.7" y="1248.3" font-family='"Liberation Serif", serif' font-size="20.5" text-anchor="start" fill="#808080" textLength="13.4" lengthAdjust="spacingAndGlyphs" stroke="#808080" stroke-width="0.25" font-weight="bold">5</text>
<text x="179.7" y="1314.7" font-family='"Liberation Serif", serif' font-size="20.5" text-anchor="start" fill="#808080" textLength="13.4" lengthAdjust="spacingAndGlyphs" stroke="#808080" stroke-width="0.25" font-weight="bold">4</text>
<text x="179.7" y="1382.2" font-family='"Liberation Serif", serif' font-size="20.5" text-anchor="start" fill="#808080" textLength="13.4" lengthAdjust="spacingAndGlyphs" stroke="#808080" stroke-width="0.25" font-weight="bold">3</text>
<text x="179.7" y="1449.5" font-family='"Liberation Serif", serif' font-size="20.5" text-anchor="start" fill="#808080" textLength="13.4" lengthAdjust="spacingAndGlyphs" stroke="#808080" stroke-width="0.25" font-weight="bold">2</text>
<text x="179.7" y="1517.1" font-family='"Liberation Serif", serif' font-size="20.5" text-anchor="start" fill="#808080" textLength="13.4" lengthAdjust="spacingAndGlyphs" stroke="#808080" stroke-width="0.25" font-weight="bold">1</text>
<text x="179.7" y="1584.4" font-family='"Liberation Serif", serif' font-size="20.5" text-anchor="start" fill="#808080" textLength="13.4" lengthAdjust="spacingAndGlyphs" stroke="#808080" stroke-width="0.25" font-weight="bold">0</text>
<text x="203.4" y="1611.3" font-family='"Liberation Serif", serif' font-size="21" text-anchor="start" fill="#868686" textLength="24.7" lengthAdjust="spacingAndGlyphs" stroke="#868686" stroke-width="0.5">19</text>
<text x="233.8" y="1611.3" font-family='"Liberation Serif", serif' font-size="21" text-anchor="start" fill="#868686" textLength="24.7" lengthAdjust="spacingAndGlyphs" stroke="#868686" stroke-width="0.5">22</text>
<text x="264.3" y="1611.3" font-family='"Liberation Serif", serif' font-size="21" text-anchor="start" fill="#868686" textLength="24.7" lengthAdjust="spacingAndGlyphs" stroke="#868686" stroke-width="0.5">25</text>
<text x="294.7" y="1611.3" font-family='"Liberation Serif", serif' font-size="21" text-anchor="start" fill="#868686" textLength="24.7" lengthAdjust="spacingAndGlyphs" stroke="#868686" stroke-width="0.5">28</text>
<text x="325.2" y="1611.3" font-family='"Liberation Serif", serif' font-size="21" text-anchor="start" fill="#868686" textLength="24.7" lengthAdjust="spacingAndGlyphs" stroke="#868686" stroke-width="0.5">31</text>
<text x="355.7" y="1611.3" font-family='"Liberation Serif", serif' font-size="21" text-anchor="start" fill="#868686" textLength="24.7" lengthAdjust="spacingAndGlyphs" stroke="#868686" stroke-width="0.5">34</text>
<text x="386.1" y="1611.3" font-family='"Liberation Serif", serif' font-size="21" text-anchor="start" fill="#868686" textLength="24.7" lengthAdjust="spacingAndGlyphs" stroke="#868686" stroke-width="0.5">37</text>
<text x="416.6" y="1611.3" font-family='"Liberation Serif", serif' font-size="21" text-anchor="start" fill="#868686" textLength="24.7" lengthAdjust="spacingAndGlyphs" stroke="#868686" stroke-width="0.5">40</text>
<text x="447.0" y="1611.3" font-family='"Liberation Serif", serif' font-size="21" text-anchor="start" fill="#868686" textLength="24.7" lengthAdjust="spacingAndGlyphs" stroke="#868686" stroke-width="0.5">43</text>
<text x="477.5" y="1611.3" font-family='"Liberation Serif", serif' font-size="21" text-anchor="start" fill="#868686" textLength="24.7" lengthAdjust="spacingAndGlyphs" stroke="#868686" stroke-width="0.5">46</text>
<text x="508.0" y="1611.3" font-family='"Liberation Serif", serif' font-size="21" text-anchor="start" fill="#868686" textLength="24.7" lengthAdjust="spacingAndGlyphs" stroke="#868686" stroke-width="0.5">49</text>
<text x="538.4" y="1611.3" font-family='"Liberation Serif", serif' font-size="21" text-anchor="start" fill="#868686" textLength="24.7" lengthAdjust="spacingAndGlyphs" stroke="#868686" stroke-width="0.5">52</text>
<text x="568.9" y="1611.3" font-family='"Liberation Serif", serif' font-size="21" text-anchor="start" fill="#868686" textLength="24.7" lengthAdjust="spacingAndGlyphs" stroke="#868686" stroke-width="0.5">55</text>
<text x="599.3" y="1611.3" font-family='"Liberation Serif", serif' font-size="21" text-anchor="start" fill="#868686" textLength="24.7" lengthAdjust="spacingAndGlyphs" stroke="#868686" stroke-width="0.5">58</text>
<text x="629.8" y="1611.3" font-family='"Liberation Serif", serif' font-size="21" text-anchor="start" fill="#868686" textLength="24.7" lengthAdjust="spacingAndGlyphs" stroke="#868686" stroke-width="0.5">61</text>
<text x="660.3" y="1611.3" font-family='"Liberation Serif", serif' font-size="21" text-anchor="start" fill="#868686" textLength="24.7" lengthAdjust="spacingAndGlyphs" stroke="#868686" stroke-width="0.5">64</text>
<text x="690.7" y="1611.3" font-family='"Liberation Serif", serif' font-size="21" text-anchor="start" fill="#868686" textLength="24.7" lengthAdjust="spacingAndGlyphs" stroke="#868686" stroke-width="0.5">67</text>
<text x="721.2" y="1611.3" font-family='"Liberation Serif", serif' font-size="21" text-anchor="start" fill="#868686" textLength="24.7" lengthAdjust="spacingAndGlyphs" stroke="#868686" stroke-width="0.5">70</text>
<text x="751.6" y="1611.3" font-family='"Liberation Serif", serif' font-size="21" text-anchor="start" fill="#868686" textLength="24.7" lengthAdjust="spacingAndGlyphs" stroke="#868686" stroke-width="0.5">73</text>
<text x="782.1" y="1611.3" font-family='"Liberation Serif", serif' font-size="21" text-anchor="start" fill="#868686" textLength="24.7" lengthAdjust="spacingAndGlyphs" stroke="#868686" stroke-width="0.5">76</text>
<text x="812.6" y="1611.3" font-family='"Liberation Serif", serif' font-size="21" text-anchor="start" fill="#868686" textLength="24.7" lengthAdjust="spacingAndGlyphs" stroke="#868686" stroke-width="0.5">79</text>
<text x="843.0" y="1611.3" font-family='"Liberation Serif", serif' font-size="21" text-anchor="start" fill="#868686" textLength="24.7" lengthAdjust="spacingAndGlyphs" stroke="#868686" stroke-width="0.5">82</text>
<text x="344.6" y="1203.8" font-family='"Liberation Sans", sans-serif' font-size="35.5" text-anchor="start" fill="#000" textLength="396.5" lengthAdjust="spacingAndGlyphs">Normal brightness image</text>
<text x="378.5" y="1660.4" font-family='"Liberation Sans", sans-serif' font-size="24.8" text-anchor="start" fill="#000" textLength="312.5" lengthAdjust="spacingAndGlyphs" stroke="#000" stroke-width="0.3">Binarized parameter value</text>
<text x="0" y="0" font-family='"Liberation Sans", sans-serif' font-size="29" text-anchor="middle" fill="#000" textLength="185.0" lengthAdjust="spacingAndGlyphs" transform="translate(146.3 1425.5) rotate(-90)">Number of cells</text>
<line x1="960.0" y1="1241.0" x2="1643.0" y2="1241.0" stroke="#d0d0d0" stroke-width="1.5"/>
<line x1="960.0" y1="1310.0" x2="1643.0" y2="1310.0" stroke="#d0d0d0" stroke-width="1.5"/>
<line x1="960.0" y1="1377.6" x2="1643.0" y2="1377.6" stroke="#d0d0d0" stroke-width="1.5"/>
<line x1="960.0" y1="1445.6" x2="1643.0" y2="1445.6" stroke="#d0d0d0" stroke-width="1.5"/>
<line x1="960.0" y1="1513.6" x2="1643.0" y2="1513.6" stroke="#d0d0d0" stroke-width="1.5"/>
<line x1="960.0" y1="1582.2" x2="1643.0" y2="1582.2" stroke="#d0d0d0" stroke-width="1.5"/>
<rect x="963.6" y="1513.6" width="3.3" height="68.6" fill="#e59866"/>
<rect x="974.0" y="1513.6" width="3.3" height="68.6" fill="#e59866"/>
<rect x="1015.4" y="1513.6" width="3.3" height="68.6" fill="#e59866"/>
<rect x="1025.8" y="1513.6" width="3.3" height="68.6" fill="#e59866"/>
<rect x="1046.5" y="1513.6" width="3.3" height="68.6" fill="#e59866"/>
<rect x="1056.9" y="1310.0" width="3.3" height="272.2" fill="#e59866"/>
<rect x="1067.2" y="1513.6" width="3.3" height="68.6" fill="#e59866"/>
<rect x="1088.0" y="1310.0" width="3.3" height="272.2" fill="#e59866"/>
<rect x="1098.3" y="1513.6" width="3.3" height="68.6" fill="#e59866"/>
<rect x="1119.0" y="1445.6" width="3.3" height="136.6" fill="#e59866"/>
<rect x="1150.1" y="1513.6" width="3.3" height="68.6" fill="#e59866"/>
<rect x="1160.5" y="1377.6" width="3.3" height="204.6" fill="#e59866"/>
<rect x="1181.2" y="1377.6" width="3.3" height="204.6" fill="#e59866"/>
<rect x="1191.6" y="1310.0" width="3.3" height="272.2" fill="#e59866"/>
<rect x="1201.9" y="1310.0" width="3.3" height="272.2" fill="#e59866"/>
<rect x="1212.3" y="1377.6" width="3.3" height="204.6" fill="#e59866"/>
<rect x="1233.0" y="1513.6" width="3.3" height="68.6" fill="#e59866"/>
<rect x="1243.4" y="1445.6" width="3.3" height="136.6" fill="#e59866"/>
<rect x="1253.7" y="1445.6" width="3.3" height="136.6" fill="#e59866"/>
<rect x="1264.1" y="1513.6" width="3.3" height="68.6" fill="#e59866"/>
<rect x="1274.4" y="1513.6" width="3.3" height="68.6" fill="#e59866"/>
<rect x="1284.8" y="1377.6" width="3.3" height="204.6" fill="#e59866"/>
<rect x="1305.5" y="1513.6" width="3.3" height="68.6" fill="#e59866"/>
<rect x="1326.2" y="1513.6" width="3.3" height="68.6" fill="#e59866"/>
<rect x="1336.6" y="1513.6" width="3.3" height="68.6" fill="#e59866"/>
<rect x="1357.3" y="1513.6" width="3.3" height="68.6" fill="#e59866"/>
<rect x="1378.0" y="1445.6" width="3.3" height="136.6" fill="#e59866"/>
<rect x="1440.2" y="1513.6" width="3.3" height="68.6" fill="#e59866"/>
<text x="930.2" y="1247.9" font-family='"Liberation Serif", serif' font-size="20.5" text-anchor="start" fill="#808080" textLength="14.2" lengthAdjust="spacingAndGlyphs" stroke="#808080" stroke-width="0.25" font-weight="bold">5</text>
<text x="930.2" y="1316.9" font-family='"Liberation Serif", serif' font-size="20.5" text-anchor="start" fill="#808080" textLength="14.2" lengthAdjust="spacingAndGlyphs" stroke="#808080" stroke-width="0.25" font-weight="bold">4</text>
<text x="930.2" y="1384.5" font-family='"Liberation Serif", serif' font-size="20.5" text-anchor="start" fill="#808080" textLength="14.2" lengthAdjust="spacingAndGlyphs" stroke="#808080" stroke-width="0.25" font-weight="bold">3</text>
<text x="930.2" y="1452.5" font-family='"Liberation Serif", serif' font-size="20.5" text-anchor="start" fill="#808080" textLength="14.2" lengthAdjust="spacingAndGlyphs" stroke="#808080" stroke-width="0.25" font-weight="bold">2</text>
<text x="930.2" y="1520.5" font-family='"Liberation Serif", serif' font-size="20.5" text-anchor="start" fill="#808080" textLength="14.2" lengthAdjust="spacingAndGlyphs" stroke="#808080" stroke-width="0.25" font-weight="bold">1</text>
<text x="930.2" y="1589.1" font-family='"Liberation Serif", serif' font-size="20.5" text-anchor="start" fill="#808080" textLength="14.2" lengthAdjust="spacingAndGlyphs" stroke="#808080" stroke-width="0.25" font-weight="bold">0</text>
<text x="954.9" y="1616.1" font-family='"Liberation Serif", serif' font-size="21" text-anchor="start" fill="#868686" textLength="24.7" lengthAdjust="spacingAndGlyphs" stroke="#868686" stroke-width="0.5">19</text>
<text x="985.9" y="1616.1" font-family='"Liberation Serif", serif' font-size="21" text-anchor="start" fill="#868686" textLength="24.7" lengthAdjust="spacingAndGlyphs" stroke="#868686" stroke-width="0.5">22</text>
<text x="1017.0" y="1616.1" font-family='"Liberation Serif", serif' font-size="21" text-anchor="start" fill="#868686" textLength="24.7" lengthAdjust="spacingAndGlyphs" stroke="#868686" stroke-width="0.5">25</text>
<text x="1048.0" y="1616.1" font-family='"Liberation Serif", serif' font-size="21" text-anchor="start" fill="#868686" textLength="24.7" lengthAdjust="spacingAndGlyphs" stroke="#868686" stroke-width="0.5">28</text>
<text x="1079.1" y="1616.1" font-family='"Liberation Serif", serif' font-size="21" text-anchor="start" fill="#868686" textLength="24.7" lengthAdjust="spacingAndGlyphs" stroke="#868686" stroke-width="0.5">31</text>
<text x="1110.2" y="1616.1" font-family='"Liberation Serif", serif' font-size="21" text-anchor="start" fill="#868686" textLength="24.7" lengthAdjust="spacingAndGlyphs" stroke="#868686" stroke-width="0.5">34</text>
<text x="1141.2" y="1616.1" font-family='"Liberation Serif", serif' font-size="21" text-anchor="start" fill="#868686" textLength="24.7" lengthAdjust="spacingAndGlyphs" stroke="#868686" stroke-width="0.5">37</text>
<text x="1172.3" y="1616.1" font-family='"Liberation Serif", serif' font-size="21" text-anchor="start" fill="#868686" textLength="24.7" lengthAdjust="spacingAndGlyphs" stroke="#868686" stroke-width="0.5">40</text>
<text x="1203.3" y="1616.1" font-family='"Liberation Serif", serif' font-size="21" text-anchor="start" fill="#868686" textLength="24.7" lengthAdjust="spacingAndGlyphs" stroke="#868686" stroke-width="0.5">43</text>
<text x="1234.4" y="1616.1" font-family='"Liberation Serif", serif' font-size="21" text-anchor="start" fill="#868686" textLength="24.7" lengthAdjust="spacingAndGlyphs" stroke="#868686" stroke-width="0.5">46</text>
<text x="1265.5" y="1616.1" font-family='"Liberation Serif", serif' font-size="21" text-anchor="start" fill="#868686" textLength="24.7" lengthAdjust="spacingAndGlyphs" stroke="#868686" stroke-width="0.5">49</text>
<text x="1296.5" y="1616.1" font-family='"Liberation Serif", serif' font-size="21" text-anchor="start" fill="#868686" textLength="24.7" lengthAdjust="spacingAndGlyphs" stroke="#868686" stroke-width="0.5">52</text>
<text x="1327.6" y="1616.1" font-family='"Liberation Serif", serif' font-size="21" text-anchor="start" fill="#868686" textLength="24.7" lengthAdjust="spacingAndGlyphs" stroke="#868686" stroke-width="0.5">55</text>
<text x="1358.6" y="1616.1" font-family='"Liberation Serif", serif' font-size="21" text-anchor="start" fill="#868686" textLength="24.7" lengthAdjust="spacingAndGlyphs" stroke="#868686" stroke-width="0.5">58</text>
<text x="1389.7" y="1616.1" font-family='"Liberation Serif", serif' font-size="21" text-anchor="start" fill="#868686" textLength="24.7" lengthAdjust="spacingAndGlyphs" stroke="#868686" stroke-width="0.5">61</text>
<text x="1420.8" y="1616.1" font-family='"Liberation Serif", serif' font-size="21" text-anchor="start" fill="#868686" textLength="24.7" lengthAdjust="spacingAndGlyphs" stroke="#868686" stroke-width="0.5">64</text>
<text x="1451.8" y="1616.1" font-family='"Liberation Serif", serif' font-size="21" text-anchor="start" fill="#868686" textLength="24.7" lengthAdjust="spacingAndGlyphs" stroke="#868686" stroke-width="0.5">67</text>
<text x="1482.9" y="1616.1" font-family='"Liberation Serif", serif' font-size="21" text-anchor="start" fill="#868686" textLength="24.7" lengthAdjust="spacingAndGlyphs" stroke="#868686" stroke-width="0.5">70</text>
<text x="1513.9" y="1616.1" font-family='"Liberation Serif", serif' font-size="21" text-anchor="start" fill="#868686" textLength="24.7" lengthAdjust="spacingAndGlyphs" stroke="#868686" stroke-width="0.5">73</text>
<text x="1545.0" y="1616.1" font-family='"Liberation Serif", serif' font-size="21" text-anchor="start" fill="#868686" textLength="24.7" lengthAdjust="spacingAndGlyphs" stroke="#868686" stroke-width="0.5">76</text>
<text x="1576.1" y="1616.1" font-family='"Liberation Serif", serif' font-size="21" text-anchor="start" fill="#868686" textLength="24.7" lengthAdjust="spacingAndGlyphs" stroke="#868686" stroke-width="0.5">79</text>
<text x="1607.1" y="1616.1" font-family='"Liberation Serif", serif' font-size="21" text-anchor="start" fill="#868686" textLength="24.7" lengthAdjust="spacingAndGlyphs" stroke="#868686" stroke-width="0.5">82</text>
<text x="1206.6" y="1204.2" font-family='"Liberation Sans", sans-serif' font-size="35.5" text-anchor="start" fill="#000" textLength="179.3" lengthAdjust="spacingAndGlyphs">Dark image</text>
<text x="1139.0" y="1660.6" font-family='"Liberation Sans", sans-serif' font-size="24.8" text-anchor="start" fill="#000" textLength="313.0" lengthAdjust="spacingAndGlyphs" stroke="#000" stroke-width="0.3">Binarized parameter value</text>
<line x1="271.5" y1="2337.3" x2="1498.0" y2="2337.3" stroke="#d4d4d4" stroke-width="2.4"/>
<text x="230.1" y="2346.9" font-family='"Liberation Serif", serif' font-size="29" text-anchor="start" fill="#505050" textLength="20.6" lengthAdjust="spacingAndGlyphs" stroke="#505050" stroke-width="0.6">0</text>
<line x1="271.5" y1="2258.2" x2="1498.0" y2="2258.2" stroke="#d4d4d4" stroke-width="2.4"/>
<text x="216.1" y="2267.8" font-family='"Liberation Serif", serif' font-size="29" text-anchor="start" fill="#505050" textLength="34.6" lengthAdjust="spacingAndGlyphs" stroke="#505050" stroke-width="0.6">20</text>
<line x1="271.5" y1="2179.1" x2="1498.0" y2="2179.1" stroke="#d4d4d4" stroke-width="2.4"/>
<text x="216.1" y="2188.7" font-family='"Liberation Serif", serif' font-size="29" text-anchor="start" fill="#505050" textLength="34.6" lengthAdjust="spacingAndGlyphs" stroke="#505050" stroke-width="0.6">40</text>
<line x1="271.5" y1="2100.1" x2="1498.0" y2="2100.1" stroke="#d4d4d4" stroke-width="2.4"/>
<text x="216.1" y="2109.7" font-family='"Liberation Serif", serif' font-size="29" text-anchor="start" fill="#505050" textLength="34.6" lengthAdjust="spacingAndGlyphs" stroke="#505050" stroke-width="0.6">60</text>
<line x1="271.5" y1="2021.0" x2="1498.0" y2="2021.0" stroke="#d4d4d4" stroke-width="2.4"/>
<text x="216.1" y="2030.6" font-family='"Liberation Serif", serif' font-size="29" text-anchor="start" fill="#505050" textLength="34.6" lengthAdjust="spacingAndGlyphs" stroke="#505050" stroke-width="0.6">80</text>
<line x1="271.5" y1="1941.9" x2="1498.0" y2="1941.9" stroke="#d4d4d4" stroke-width="2.4"/>
<text x="202.0" y="1951.5" font-family='"Liberation Serif", serif' font-size="29" text-anchor="start" fill="#505050" textLength="48.7" lengthAdjust="spacingAndGlyphs" stroke="#505050" stroke-width="0.6">100</text>
<line x1="271.5" y1="1862.8" x2="1498.0" y2="1862.8" stroke="#d4d4d4" stroke-width="2.4"/>
<text x="202.0" y="1872.4" font-family='"Liberation Serif", serif' font-size="29" text-anchor="start" fill="#505050" textLength="48.7" lengthAdjust="spacingAndGlyphs" stroke="#505050" stroke-width="0.6">120</text>
<line x1="271.5" y1="1783.7" x2="1498.0" y2="1783.7" stroke="#d4d4d4" stroke-width="2.4"/>
<text x="202.0" y="1793.3" font-family='"Liberation Serif", serif' font-size="29" text-anchor="start" fill="#505050" textLength="48.7" lengthAdjust="spacingAndGlyphs" stroke="#505050" stroke-width="0.6">140</text>
<defs><pattern id="hatch" width="6.6" height="6.6" patternUnits="userSpaceOnUse" patternTransform="rotate(45)"><rect width="6.6" height="6.6" fill="#fff"/><rect width="6.6" height="2.65" fill="#1c1c1c"/></pattern></defs>
<rect x="379.3" y="2047.7" width="94.4" height="289.6" fill="#000"/>
<rect x="683.9" y="2138.4" width="96.9" height="198.9" fill="#000"/>
<rect x="990.5" y="2092.0" width="97.0" height="245.3" fill="#000"/>
<rect x="1297.0" y="1978.2" width="97.0" height="359.1" fill="url(#hatch)"/>
<line x1="429.1" y1="1943.1" x2="429.1" y2="2149.1" stroke="#484848" stroke-width="2"/>
<line x1="421.1" y1="1943.1" x2="437.1" y2="1943.1" stroke="#484848" stroke-width="2"/>
<line x1="421.1" y1="2149.1" x2="437.1" y2="2149.1" stroke="#484848" stroke-width="2"/>
<line x1="732.3" y1="2090.0" x2="732.3" y2="2183.7" stroke="#484848" stroke-width="2"/>
<line x1="724.3" y1="2090.0" x2="740.3" y2="2090.0" stroke="#484848" stroke-width="2"/>
<line x1="724.3" y1="2183.7" x2="740.3" y2="2183.7" stroke="#484848" stroke-width="2"/>
<line x1="1039.0" y1="1999.3" x2="1039.0" y2="2183.7" stroke="#484848" stroke-width="2"/>
<line x1="1031.0" y1="1999.3" x2="1047.0" y2="1999.3" stroke="#484848" stroke-width="2"/>
<line x1="1031.0" y1="2183.7" x2="1047.0" y2="2183.7" stroke="#484848" stroke-width="2"/>
<line x1="1345.6" y1="1864.4" x2="1345.6" y2="2093.0" stroke="#484848" stroke-width="2"/>
<line x1="1337.6" y1="1864.4" x2="1353.6" y2="1864.4" stroke="#484848" stroke-width="2"/>
<line x1="1337.6" y1="2093.0" x2="1353.6" y2="2093.0" stroke="#484848" stroke-width="2"/>
<line x1="453.5" y1="1783.0" x2="1341.5" y2="1783.0" stroke="#000" stroke-width="6.6"/>
<line x1="766.0" y1="1820.0" x2="1341.5" y2="1820.0" stroke="#000" stroke-width="6.6"/>
<line x1="1049.5" y1="1855.0" x2="1341.5" y2="1855.0" stroke="#000" stroke-width="6.6"/>
<text x="886.1" y="1785.0" font-family='"Liberation Serif", serif' font-size="44" text-anchor="middle" fill="#000">*</text>
<text x="1011.2" y="1822.5" font-family='"Liberation Serif", serif' font-size="44" text-anchor="middle" fill="#000">*</text>
<text x="1048.8" y="1822.5" font-family='"Liberation Serif", serif' font-size="44" text-anchor="middle" fill="#000">*</text>
<text x="1157.8" y="1862.0" font-family='"Liberation Serif", serif' font-size="44" text-anchor="middle" fill="#000">*</text>
<text x="1196.1" y="1862.0" font-family='"Liberation Serif", serif' font-size="44" text-anchor="middle" fill="#000">*</text>
<text x="0" y="0" font-family='"Liberation Sans", sans-serif' font-size="37" text-anchor="middle" fill="#000" textLength="418.0" lengthAdjust="spacingAndGlyphs" transform="translate(163.0 2046.0) rotate(-90)">Binarized parameter value</text>
<text x="429.3" y="2392.0" font-family='"Liberation Sans", sans-serif' font-size="34" text-anchor="middle" fill="#000" textLength="39.1" lengthAdjust="spacingAndGlyphs">Sq</text>
<text x="429.3" y="2435.2" font-family='"Liberation Sans", sans-serif' font-size="30" text-anchor="middle" fill="#000" textLength="84.9" lengthAdjust="spacingAndGlyphs">(n=10)</text>
<text x="732.3" y="2392.0" font-family='"Liberation Sans", sans-serif' font-size="34" text-anchor="middle" fill="#000" textLength="39.1" lengthAdjust="spacingAndGlyphs">Ad</text>
<text x="732.3" y="2435.2" font-family='"Liberation Sans", sans-serif' font-size="30" text-anchor="middle" fill="#000" textLength="84.9" lengthAdjust="spacingAndGlyphs">(n=18)</text>
<text x="1037.5" y="2392.0" font-family='"Liberation Sans", sans-serif' font-size="34" text-anchor="middle" fill="#000" textLength="47.9" lengthAdjust="spacingAndGlyphs">Sm</text>
<text x="1037.5" y="2435.2" font-family='"Liberation Sans", sans-serif' font-size="30" text-anchor="middle" fill="#000" textLength="68.7" lengthAdjust="spacingAndGlyphs">(n=8)</text>
<text x="1347.5" y="2392.0" font-family='"Liberation Sans", sans-serif' font-size="34" text-anchor="middle" fill="#000" textLength="30.2" lengthAdjust="spacingAndGlyphs">Ci</text>
<text x="1347.5" y="2435.2" font-family='"Liberation Sans", sans-serif' font-size="30" text-anchor="middle" fill="#000" textLength="68.7" lengthAdjust="spacingAndGlyphs">(n=9)</text>
</svg>
</body></html>
